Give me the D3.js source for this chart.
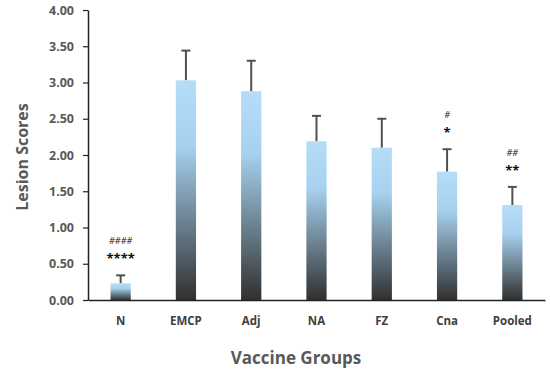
<!DOCTYPE html>
<html>
<head>
<meta charset="utf-8">
<script src="https://cdn.jsdelivr.net/npm/d3@7"></script>
<style>
  body { margin: 0; background: #fff; }
  svg text { font-family: "Open Sans", "DejaVu Sans", sans-serif; }
</style>
</head>
<body>
<svg width="550" height="371"></svg>
<script>
var groups = ["N", "EMCP", "Adj", "NA", "FZ", "Cna", "Pooled"];
var scores = [0.23, 3.03, 2.88, 2.19, 2.10, 1.77, 1.31];
var errors = [0.11, 0.41, 0.42, 0.35, 0.40, 0.31, 0.25];
var hashMarks = ["####", "", "", "", "", "#", "##"];
var starMarks = ["****", "", "", "", "", "*", "**"];
var yTicks = [0, 0.5, 1, 1.5, 2, 2.5, 3, 3.5, 4];

var svg = d3.select("svg");
var margin = { left: 88, right: 545, top: 10, bottom: 300 };

var x = d3.scaleBand()
  .domain(groups)
  .range([margin.left, margin.right])
  .paddingInner(0.69)
  .paddingOuter(0.345);

var y = d3.scaleLinear().domain([0, 4]).range([margin.bottom, margin.top]);

// bar gradient
var grad = svg.append("defs").append("linearGradient")
  .attr("id", "barGrad")
  .attr("x1", 0).attr("y1", 0).attr("x2", 0).attr("y2", 1);
grad.append("stop").attr("offset", "0%").attr("stop-color", "#b6ddf8");
grad.append("stop").attr("offset", "30%").attr("stop-color", "#a6d1ef");
grad.append("stop").attr("offset", "100%").attr("stop-color", "#303030");

// error bars (behind bars)
var err = svg.append("g").attr("stroke", "#505050").attr("stroke-width", 2);
groups.forEach(function(g, i) {
  var cx = x(g) + x.bandwidth() / 2;
  err.append("line")
    .attr("x1", cx).attr("x2", cx)
    .attr("y1", y(scores[i])).attr("y2", y(scores[i] + errors[i]));
  err.append("line")
    .attr("x1", cx - 4.5).attr("x2", cx + 4.5)
    .attr("y1", y(scores[i] + errors[i])).attr("y2", y(scores[i] + errors[i]));
});

svg.append("g")
  .selectAll("rect")
  .data(groups)
  .join("rect")
  .attr("x", function(d) { return x(d); })
  .attr("width", x.bandwidth())
  .attr("y", function(d, i) { return y(scores[i]); })
  .attr("height", function(d, i) { return y(0) - y(scores[i]); })
  .attr("fill", "url(#barGrad)");

// y axis
var yAxis = svg.append("g")
  .attr("transform", "translate(" + margin.left + ",0)")
  .call(d3.axisLeft(y).tickValues(yTicks).tickFormat(d3.format(".2f")).tickSize(5).tickSizeOuter(0));
yAxis.select(".domain").attr("stroke", "#222").attr("stroke-width", 1.5);
yAxis.selectAll(".tick line").attr("stroke", "#222").attr("stroke-width", 1.2);
yAxis.selectAll(".tick text")
  .attr("x", -14)
  .attr("fill", "#595959")
  .style("font-size", "12.5px")
  .style("font-weight", "bold");

// x axis
var xAxis = svg.append("g")
  .attr("transform", "translate(0," + margin.bottom + ")")
  .call(d3.axisBottom(x).tickSize(0).tickSizeOuter(0));
xAxis.select(".domain").attr("stroke", "#222").attr("stroke-width", 1.5);
xAxis.selectAll(".tick text")
  .attr("y", 17)
  .attr("fill", "#404040")
  .style("font-size", "11.5px")
  .style("font-weight", "bold");

// significance marks
groups.forEach(function(g, i) {
  var cx = x(g) + x.bandwidth() / 2;
  var top = y(scores[i] + errors[i]);
  svg.append("text")
    .attr("x", cx).attr("y", top - 12)
    .attr("text-anchor", "middle")
    .attr("fill", "#111")
    .style("font-size", "13px")
    .style("font-weight", "bold")
    .text(starMarks[i]);
  svg.append("text")
    .attr("x", cx).attr("y", top - 31)
    .attr("text-anchor", "middle")
    .attr("fill", "#111")
    .style("font-size", "9px")
    .style("font-style", "italic")
    .text(hashMarks[i]);
});

// titles
svg.append("text")
  .attr("x", 296).attr("y", 364)
  .attr("text-anchor", "middle")
  .attr("fill", "#595959")
  .style("font-size", "17px")
  .style("font-weight", "bold")
  .text("Vaccine Groups");

svg.append("text")
  .attr("transform", "translate(28,157) rotate(-90)")
  .attr("text-anchor", "middle")
  .attr("fill", "#595959")
  .style("font-size", "16px")
  .style("font-weight", "bold")
  .text("Lesion Scores");
</script>
</body>
</html>
